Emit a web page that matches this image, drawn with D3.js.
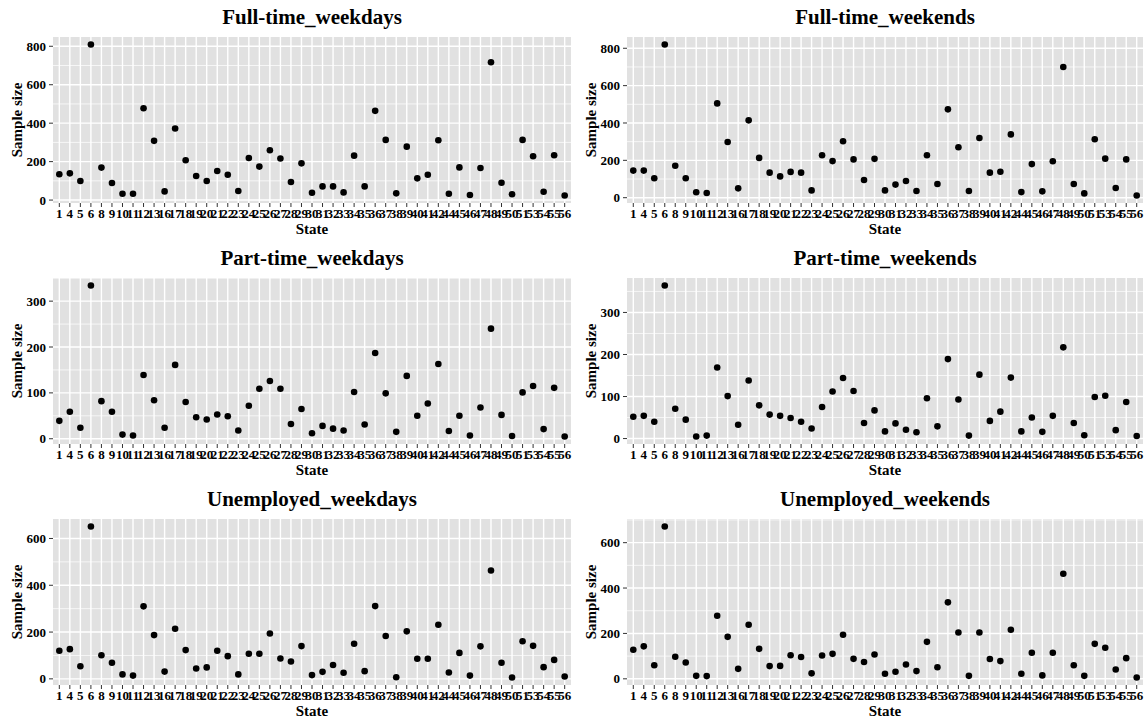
<!DOCTYPE html>
<html>
<head>
<meta charset="utf-8">
<script src="https://d3js.org/d3.v7.min.js"></script>
<style>
    body { margin: 0; background: #fff; }
    text { font-family: "Liberation Serif", "Times New Roman", serif; font-weight: bold; fill: #000; }
    .title { font-size: 21px; text-anchor: middle; }
    .axis-title { font-size: 15px; text-anchor: middle; }
    .tick-label { font-size: 13px; }
</style>
</head>
<body>
<script>
// states (FIPS codes) on the x axis
var states = ["1", "4", "5", "6", "8", "9", "10", "11", "12", "13", "16", "17", "18", "19", "20", "21", "22", "23", "24", "25",
    "26", "27", "28", "29", "30", "31", "32", "33", "34", "35", "36", "37", "38", "39", "40", "41", "42", "44", "45", "46",
    "47", "48", "49", "50", "51", "53", "54", "55", "56"];

var fullTimeWeekdays = [134, 139, 99, 809, 169, 89, 33, 33, 478, 308, 45, 372, 207, 125, 99, 151, 132, 47, 219, 174,
    259, 216, 94, 191, 38, 71, 71, 40, 231, 71, 464, 313, 35, 278, 113, 132, 311, 33, 170, 26,
    167, 717, 90, 30, 313, 228, 43, 233, 24];
var fullTimeWeekends = [145, 145, 104, 820, 171, 104, 29, 25, 505, 298, 50, 414, 213, 134, 114, 138, 134, 39, 227, 196,
    302, 205, 95, 208, 39, 70, 89, 36, 227, 73, 473, 270, 36, 320, 134, 139, 339, 30, 180, 34,
    195, 700, 73, 23, 313, 209, 52, 205, 12];
var partTimeWeekdays = [39, 59, 24, 334, 82, 59, 9, 7, 139, 84, 24, 161, 80, 47, 42, 53, 49, 18, 72, 109,
    126, 109, 32, 65, 12, 28, 22, 18, 102, 31, 187, 99, 15, 137, 50, 77, 163, 17, 50, 7,
    68, 240, 52, 6, 101, 115, 21, 111, 5];
var partTimeWeekends = [52, 54, 40, 364, 71, 45, 5, 7, 169, 101, 33, 138, 79, 57, 54, 49, 40, 24, 75, 112,
    144, 113, 37, 67, 17, 36, 21, 15, 96, 29, 189, 93, 7, 152, 42, 64, 145, 17, 50, 16,
    54, 217, 37, 8, 99, 102, 20, 87, 6];
var unemployedWeekdays = [120, 127, 54, 651, 101, 69, 19, 14, 310, 187, 31, 214, 123, 44, 49, 120, 97, 19, 107, 107,
    194, 87, 74, 140, 16, 30, 59, 26, 150, 33, 311, 183, 7, 203, 86, 86, 231, 27, 111, 14,
    139, 463, 69, 6, 161, 141, 50, 81, 10];
var unemployedWeekends = [128, 143, 60, 671, 97, 72, 13, 12, 278, 185, 44, 238, 132, 56, 57, 104, 96, 24, 103, 110,
    194, 88, 74, 107, 22, 31, 63, 34, 163, 51, 337, 204, 13, 204, 87, 78, 216, 22, 115, 15,
    115, 463, 60, 13, 154, 137, 41, 91, 6];

var panelTitles = ["Full-time_weekdays", "Full-time_weekends", "Part-time_weekdays",
    "Part-time_weekends", "Unemployed_weekdays", "Unemployed_weekends"];
var panelValues = [fullTimeWeekdays, fullTimeWeekends, partTimeWeekdays,
    partTimeWeekends, unemployedWeekdays, unemployedWeekends];

// y tick labels per panel
var ticksFull = [0, 200, 400, 600, 800];
var ticksPart = [0, 100, 200, 300];
var ticksUnemp = [0, 200, 400, 600];
var panelTicks = [ticksFull, ticksFull, ticksPart, ticksPart, ticksUnemp, ticksUnemp];

var width = 1144, height = 719;
var colLeft = [53, 627], colRight = [571, 1143];
var rowTop = [37, 278, 519], plotH = 166;

var svg = d3.select("body").append("svg")
    .attr("width", width)
    .attr("height", height);

panelTitles.forEach(function (title, i) {
    var col = i % 2, row = Math.floor(i / 2);
    var x0 = colLeft[col], x1 = colRight[col];
    var y0 = rowTop[row], y1 = rowTop[row] + plotH;
    var values = panelValues[i];

    var x = d3.scalePoint()
        .domain(states)
        .range([x0, x1])
        .padding(0.6);

    // ggplot style 5% expansion
    var lo = d3.min(values), hi = d3.max(values), pad = (hi - lo) * 0.05;
    var y = d3.scaleLinear()
        .domain([lo - pad, hi + pad])
        .range([y1, y0]);

    var ticks = panelTicks[i];
    var step = ticks[1] - ticks[0];
    var minor = [];
    for (var v = ticks[0] - step / 2; v <= hi + pad; v += step) {
        if (v >= lo - pad) minor.push(v);
    }

    var g = svg.append("g");

    g.append("rect")
        .attr("x", x0).attr("y", y0)
        .attr("width", x1 - x0).attr("height", plotH)
        .style("fill", "#e1e1e1");

    g.selectAll(".minor")
        .data(minor)
        .enter().append("line")
        .attr("x1", x0).attr("x2", x1)
        .attr("y1", function (d) { return y(d); })
        .attr("y2", function (d) { return y(d); })
        .style("stroke", "#fff").style("stroke-width", 0.7);

    g.selectAll(".major-y")
        .data(ticks)
        .enter().append("line")
        .attr("x1", x0).attr("x2", x1)
        .attr("y1", function (d) { return y(d); })
        .attr("y2", function (d) { return y(d); })
        .style("stroke", "#fff").style("stroke-width", 1.4);

    g.selectAll(".major-x")
        .data(states)
        .enter().append("line")
        .attr("y1", y0).attr("y2", y1)
        .attr("x1", function (d) { return x(d); })
        .attr("x2", function (d) { return x(d); })
        .style("stroke", "#fff").style("stroke-width", 1.4);

    g.selectAll("circle")
        .data(values)
        .enter().append("circle")
        .attr("cx", function (d, j) { return x(states[j]); })
        .attr("cy", function (d) { return y(d); })
        .attr("r", 3.3)
        .style("fill", "#000");

    // y axis ticks + labels
    g.selectAll(".ytick")
        .data(ticks)
        .enter().append("line")
        .attr("x1", x0 - 4).attr("x2", x0)
        .attr("y1", function (d) { return y(d); })
        .attr("y2", function (d) { return y(d); })
        .style("stroke", "#333").style("stroke-width", 1);

    g.selectAll(".ylab")
        .data(ticks)
        .enter().append("text")
        .attr("class", "tick-label")
        .attr("x", x0 - 7)
        .attr("y", function (d) { return y(d); })
        .attr("dy", "0.35em")
        .attr("text-anchor", "end")
        .text(function (d) { return d; });

    // x axis ticks + labels
    g.selectAll(".xtick")
        .data(states)
        .enter().append("line")
        .attr("y1", y1).attr("y2", y1 + 4)
        .attr("x1", function (d) { return x(d); })
        .attr("x2", function (d) { return x(d); })
        .style("stroke", "#333").style("stroke-width", 1);

    g.selectAll(".xlab")
        .data(states)
        .enter().append("text")
        .attr("class", "tick-label")
        .attr("x", function (d) { return x(d); })
        .attr("y", y1 + 15)
        .attr("text-anchor", "middle")
        .text(function (d) { return d; });

    // titles
    g.append("text")
        .attr("class", "title")
        .attr("x", (x0 + x1) / 2)
        .attr("y", y0 - 13)
        .text(title);

    g.append("text")
        .attr("class", "axis-title")
        .attr("x", (x0 + x1) / 2)
        .attr("y", y1 + 31)
        .text("State");

    g.append("text")
        .attr("class", "axis-title")
        .attr("transform", "translate(" + (x0 - 31) + "," + ((y0 + y1) / 2) + ") rotate(-90)")
        .text("Sample size");
});
</script>
</body>
</html>
